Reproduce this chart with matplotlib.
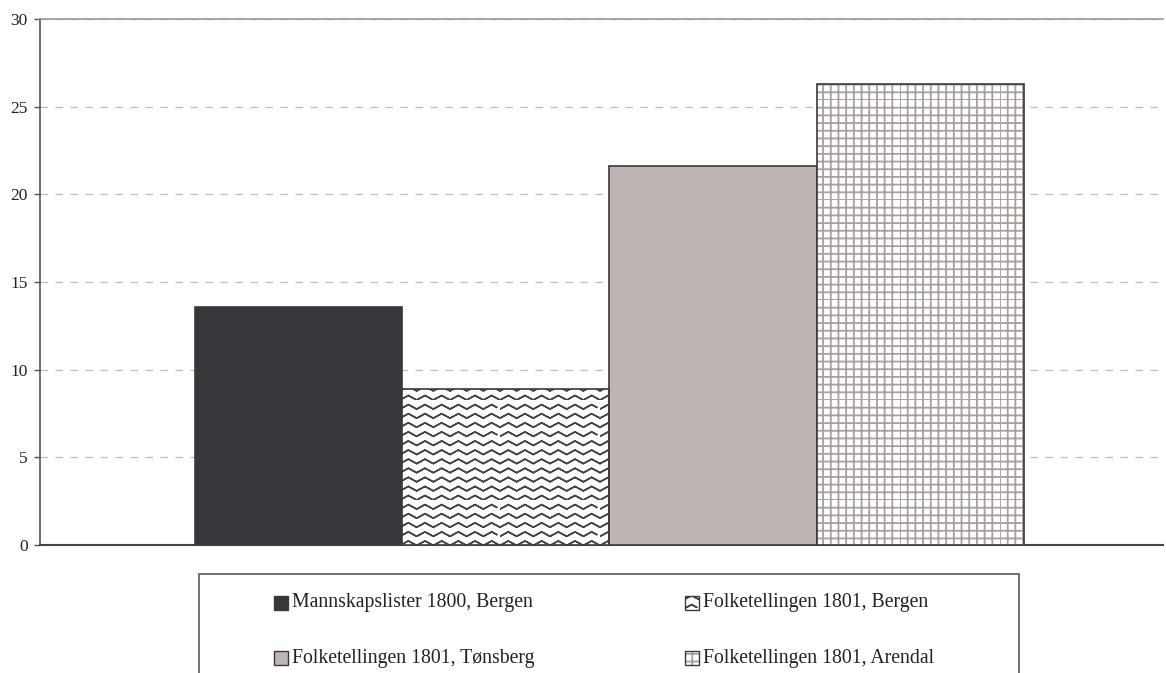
import warnings
import numpy as np
import matplotlib
matplotlib.use("Agg")
import matplotlib.pyplot as plt
import matplotlib.hatch as mhatch
from matplotlib.path import Path
from matplotlib.patches import Rectangle

warnings.filterwarnings("ignore")

# ---- data -------------------------------------------------------------
series = [
    "Mannskapslister 1800, Bergen",
    "Folketellingen 1801, Bergen",
    "Folketellingen 1801, Tønsberg",
    "Folketellingen 1801, Arendal",
]
values = [13.6, 8.9, 21.6, 26.3]
y_ticks = [0, 5, 10, 15, 20, 25, 30]


# ---- custom hatches: wavy zigzag ('z') and fine grid ('g') ---------------
class ZigzagHatch(mhatch.HatchPatternBase):
    # Each row runs left-to-right and then retraces itself, so the row
    # encloses no area and only the stroke shows up.
    def __init__(self, hatch, density):
        self.num_rows = hatch.count("z") * 11
        self.periods = 6
        self.amp = 0.045
        self.fwd = 2 * self.periods + 1
        self.pts_per_row = 2 * self.fwd - 1
        self.num_vertices = self.num_rows * self.pts_per_row

    def set_vertices_and_codes(self, vertices, codes):
        xs = np.linspace(0.0, 1.0, self.fwd)
        offs = np.where(np.arange(self.fwd) % 2 == 0, 0.0, self.amp)
        xs = np.concatenate([xs, xs[-2::-1]])
        offs = np.concatenate([offs, offs[-2::-1]])
        for r in range(self.num_rows):
            y0 = r / self.num_rows
            sl = slice(r * self.pts_per_row, (r + 1) * self.pts_per_row)
            vertices[sl, 0] = xs
            vertices[sl, 1] = y0 + offs
            codes[sl] = Path.LINETO
            codes[r * self.pts_per_row] = Path.MOVETO


class GridHatch(mhatch.HatchPatternBase):
    def __init__(self, hatch, density):
        self.num_lines = hatch.count("g") * 13
        self.num_vertices = self.num_lines * 4

    def set_vertices_and_codes(self, vertices, codes):
        steps = np.linspace(0.0, 1.0, self.num_lines, endpoint=False)
        n = self.num_lines
        vertices[0:2 * n:2, 0] = 0.0
        vertices[0:2 * n:2, 1] = steps
        vertices[1:2 * n:2, 0] = 1.0
        vertices[1:2 * n:2, 1] = steps
        vertices[2 * n::2, 0] = steps
        vertices[2 * n::2, 1] = 0.0
        vertices[2 * n + 1::2, 0] = steps
        vertices[2 * n + 1::2, 1] = 1.0
        codes[0::2] = Path.MOVETO
        codes[1::2] = Path.LINETO


mhatch._hatch_types.append(ZigzagHatch)
mhatch._hatch_types.append(GridHatch)

plt.rcParams["font.family"] = ["Liberation Serif", "DejaVu Serif"]
plt.rcParams["hatch.linewidth"] = 1.1

W, H = 1166, 673
fig = plt.figure(figsize=(W / 100, H / 100), dpi=100)
ax = fig.add_axes([40 / W, 1 - 545 / H, (1163 - 40) / W, (545 - 19) / H])

fills = ["#38363b", "white", "#bfb6b3", "white"]
hatches = [None, "z", None, "g"]
hatch_cols = [None, "#4a4547", None, "#a89f9d"]
hatch_lw = [None, 1.1, None, 1.3]
edge = "#3a3a3a"

xpos = [-0.3, -0.1, 0.1, 0.3]
width = 0.2
for x, v, fc, h, hc, hl in zip(xpos, values, fills, hatches, hatch_cols, hatch_lw):
    if h:
        with plt.rc_context({"hatch.linewidth": hl}):
            ax.bar(x, v, width, color=fc, hatch=h, edgecolor=hc, linewidth=0, zorder=3)
        ax.bar(x, v, width, fill=False, edgecolor=edge, linewidth=1.2, zorder=4)
    else:
        ax.bar(x, v, width, color=fc, edgecolor=edge, linewidth=1.2, zorder=3)

ax.set_xlim(-0.5496, 0.5344)
ax.set_ylim(0, 30)
ax.set_yticks(y_ticks)
ax.set_yticklabels([str(t) for t in y_ticks])
ax.set_xticks([])

ax.yaxis.grid(True, linestyle=(0, (6, 6)), color="#c3b9b8", linewidth=0.9, zorder=0)
ax.tick_params(axis="y", direction="out", length=4, width=1, color="#555555",
               labelsize=12.5, labelcolor="#222222", pad=5)

ax.spines["right"].set_visible(False)
ax.spines["top"].set_color("#9e9393")
ax.spines["top"].set_linewidth(1.2)
ax.spines["left"].set_color("#555555")
ax.spines["left"].set_linewidth(1.2)
ax.spines["bottom"].set_color("#444444")
ax.spines["bottom"].set_linewidth(1.5)

# ---- legend box ---------------------------------------------------------
def fx(px):
    return px / W


def fy(py):
    return 1 - py / H


frame = Rectangle((fx(199), fy(700)), fx(1019) - fx(199), fy(574) - fy(700),
                  transform=fig.transFigure, facecolor="white", edgecolor="#666666",
                  linewidth=1.3, zorder=1)
fig.add_artist(frame)

slots = [(274, 603), (685, 603), (274, 658), (685, 658)]
sq = 14
for (lx, ly), name, fc, h, hc, hl in zip(slots, series, fills, hatches, hatch_cols, hatch_lw):
    box = ((fx(lx), fy(ly + sq / 2)), sq / W, sq / H)
    if h:
        with plt.rc_context({"hatch.linewidth": hl}):
            fig.add_artist(Rectangle(*box, transform=fig.transFigure, facecolor=fc,
                                     hatch=h, edgecolor=hc, linewidth=0, zorder=2))
        fig.add_artist(Rectangle(*box, transform=fig.transFigure, fill=False,
                                 edgecolor=edge, linewidth=1.0, zorder=3))
    else:
        fig.add_artist(Rectangle(*box, transform=fig.transFigure, facecolor=fc,
                                 edgecolor=edge, linewidth=1.0, zorder=2))
    fig.text(fx(lx + sq + 4), fy(ly), name, ha="left", va="center",
             fontsize=14.2, color="#222222", zorder=3)

fig.savefig("out.png", dpi=100)
